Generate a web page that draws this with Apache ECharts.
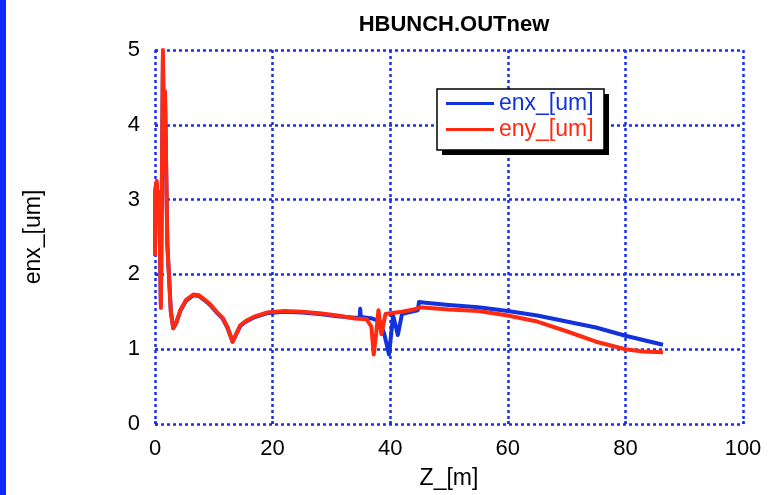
<!DOCTYPE html>
<html>
<head>
<meta charset="utf-8">
<title>HBUNCH.OUTnew</title>
<script src="https://cdn.jsdelivr.net/npm/echarts@6/dist/echarts.min.js"></script>
<style>
  html, body { margin: 0; padding: 0; background: #ffffff; }
  #chart { width: 769px; height: 495px; }
</style>
</head>
<body>
<div id="chart"></div>
<script>
// Emittance along the beamline: z position [m] vs. normalized emittance [um]
const zEnx = [0.0, 0.05, 0.3, 0.5, 0.7, 1.0, 1.35, 1.55, 1.7, 2.1, 2.7, 3.1, 3.6, 4.3, 5.3, 6.5, 7.5, 8.5, 9.5, 10.5, 11.5, 12.3, 13.2, 13.8, 14.5, 15.5, 17, 19, 22, 25, 28, 31, 34, 34.8, 34.9, 35.0, 36, 37, 38.3, 39.0, 39.8, 40.5, 41.3, 42, 43, 44.7, 44.9, 46, 50, 55, 60, 65, 70, 75, 80, 86.4];
const enx  = [2.25, 3.12, 3.2, 2.7, 3.05, 1.6, 4.9, 3.4, 4.4, 2.4, 1.5, 1.28, 1.35, 1.51, 1.65, 1.72, 1.71, 1.65, 1.58, 1.49, 1.41, 1.29, 1.10, 1.20, 1.31, 1.37, 1.43, 1.48, 1.50, 1.49, 1.47, 1.44, 1.42, 1.42, 1.54, 1.43, 1.42, 1.41, 1.37, 1.20, 0.93, 1.45, 1.19, 1.47, 1.49, 1.52, 1.63, 1.62, 1.59, 1.56, 1.51, 1.45, 1.37, 1.29, 1.18, 1.06];

const zEny = [0.0, 0.05, 0.3, 0.5, 0.7, 1.0, 1.35, 1.55, 1.7, 2.1, 2.7, 3.1, 3.6, 4.3, 5.3, 6.5, 7.5, 8.5, 9.5, 10.5, 11.5, 12.3, 13.2, 13.8, 14.5, 15.5, 17, 19, 22, 25, 28, 31, 34, 36, 36.8, 37.2, 37.6, 38.0, 38.5, 39.2, 40, 42, 44, 45, 50, 55, 60, 65, 70, 75, 80, 83, 86.4];
const eny  = [2.25, 3.15, 3.25, 2.7, 3.1, 1.55, 5.0, 3.4, 4.45, 2.4, 1.5, 1.28, 1.35, 1.52, 1.66, 1.73, 1.72, 1.66, 1.59, 1.50, 1.42, 1.30, 1.10, 1.20, 1.32, 1.38, 1.44, 1.49, 1.51, 1.50, 1.48, 1.45, 1.41, 1.40, 1.30, 0.93, 1.20, 1.52, 1.20, 1.47, 1.48, 1.50, 1.53, 1.56, 1.53, 1.51, 1.45, 1.37, 1.24, 1.10, 1.00, 0.97, 0.96];

const xTicks = [0, 20, 40, 60, 80, 100];
const yTicks = [0, 1, 2, 3, 4, 5];

const BLUE = '#1233dc';
const RED = '#ff2a10';
const GRID_BLUE = '#1a30f0';
const FONT = '"Liberation Sans", Arial, Helvetica, sans-serif';

const pairs = (xs, ys) => xs.map((x, i) => [x, ys[i]]);

const chart = echarts.init(document.getElementById('chart'), null, { renderer: 'canvas' });

const dottedLine = { color: GRID_BLUE, width: 2.5, type: [3, 3] };

chart.setOption({
  backgroundColor: '#ffffff',
  animation: false,
  title: {
    text: 'HBUNCH.OUTnew',
    left: 449,
    textAlign: 'center',
    top: 9,
    textStyle: { fontFamily: FONT, fontSize: 22, fontWeight: 'bold', color: '#000' }
  },
  legend: {
    left: 446,
    top: 92,
    orient: 'vertical',
    padding: 0,
    itemGap: 3,
    itemWidth: 48,
    itemHeight: 3,
    icon: 'rect',
    z: 20,
    textStyle: { fontFamily: FONT, fontSize: 23, padding: [0, 0, 0, 0] },
    data: [
      { name: 'enx_[um]', textStyle: { color: BLUE } },
      { name: 'eny_[um]', textStyle: { color: RED } }
    ]
  },
  grid: { left: 155, right: 26, top: 50, bottom: 69, containLabel: false },
  xAxis: {
    type: 'value',
    min: xTicks[0],
    max: xTicks[xTicks.length - 1],
    interval: xTicks[1] - xTicks[0],
    name: 'Z_[m]',
    nameLocation: 'middle',
    nameGap: 43,
    nameTextStyle: { fontFamily: FONT, fontSize: 23, color: '#000' },
    axisLine: { show: false },
    axisTick: { show: true, inside: true, length: 4, lineStyle: dottedLine },
    axisLabel: { fontFamily: FONT, fontSize: 22, color: '#000', margin: 14 },
    splitLine: { show: true, showMinLine: true, showMaxLine: true, lineStyle: dottedLine }
  },
  yAxis: {
    type: 'value',
    min: yTicks[0],
    max: yTicks[yTicks.length - 1],
    interval: yTicks[1] - yTicks[0],
    name: 'enx_[um]',
    nameLocation: 'middle',
    nameGap: 110,
    nameRotate: 90,
    nameTextStyle: { fontFamily: FONT, fontSize: 23, color: '#000' },
    axisLine: { show: false },
    axisTick: { show: true, inside: true, length: 4, lineStyle: dottedLine },
    axisLabel: { fontFamily: FONT, fontSize: 22, color: '#000', margin: 15 },
    splitLine: { show: true, showMinLine: true, showMaxLine: true, lineStyle: dottedLine }
  },
  graphic: [
    // left edge stripe
    { type: 'rect', left: 0, top: 0, shape: { width: 6, height: 495 }, style: { fill: '#0a2aff' }, z: 100 },
    // legend frame: drop shadow, then white box with black border
    { type: 'rect', x: 442, y: 94, shape: { width: 167, height: 61 }, style: { fill: '#000000' }, z: 5 },
    { type: 'rect', x: 437, y: 89, shape: { width: 167, height: 61 }, style: { fill: '#ffffff', stroke: '#000000', lineWidth: 1.5 }, z: 6 }
  ],
  series: [
    {
      name: 'enx_[um]',
      type: 'line',
      data: pairs(zEnx, enx),
      showSymbol: false,
      clip: true,
      color: BLUE,
      lineStyle: { color: BLUE, width: 4, join: 'round' },
      z: 2
    },
    {
      name: 'eny_[um]',
      type: 'line',
      data: pairs(zEny, eny),
      showSymbol: false,
      clip: true,
      color: RED,
      lineStyle: { color: RED, width: 4, join: 'round' },
      z: 3
    }
  ]
});
</script>
</body>
</html>
